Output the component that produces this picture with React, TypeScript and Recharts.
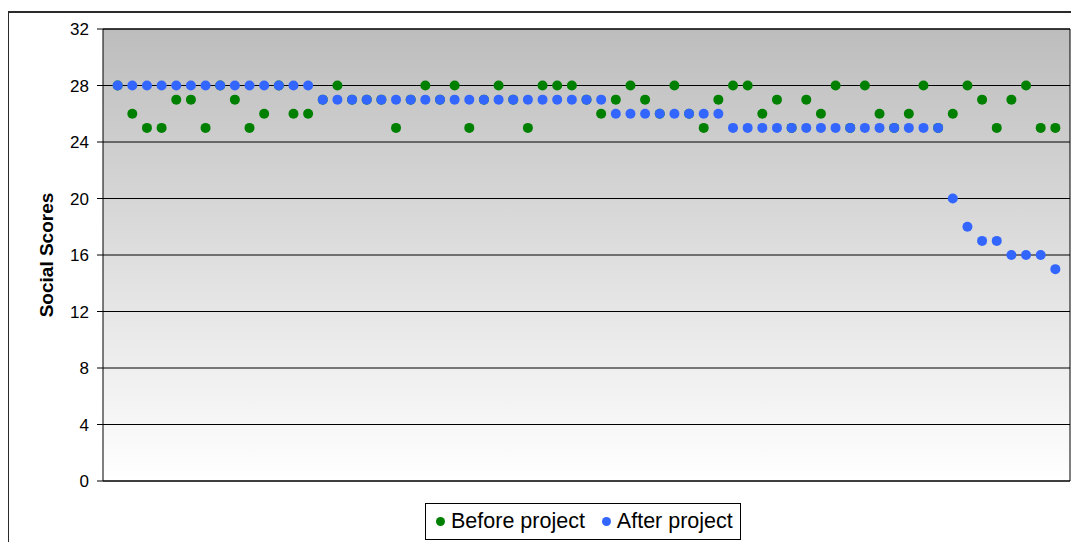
import React from 'react';
import { ScatterChart, Scatter, XAxis, YAxis, CartesianGrid, ReferenceLine } from 'recharts';

// participant index along the x axis (hidden in the original)
const participants = [
    1, 2, 3, 4, 5, 6, 7, 8, 9, 10, 11, 12, 13, 14, 15, 16, 17, 18, 19, 20,
    21, 22, 23, 24, 25, 26, 27, 28, 29, 30, 31, 32, 33, 34, 35, 36, 37, 38, 39, 40,
    41, 42, 43, 44, 45, 46, 47, 48, 49, 50, 51, 52, 53, 54, 55, 56, 57, 58, 59, 60,
    61, 62, 63, 64, 65,
];

const beforeScores = [
    28, 26, 25, 25, 27, 27, 25, 28, 27, 25, 26, 28, 26, 26, 27, 28, 27, 27, 27, 25,
    27, 28, 27, 28, 25, 27, 28, 27, 25, 28, 28, 28, 27, 26, 27, 28, 27, 26, 28, 26,
    25, 27, 28, 28, 26, 27, 25, 27, 26, 28, 25, 28, 26, 25, 26, 28, 25, 26, 28, 27,
    25, 27, 28, 25, 25,
];

const afterScores = [
    28, 28, 28, 28, 28, 28, 28, 28, 28, 28, 28, 28, 28, 28, 27, 27, 27, 27, 27, 27,
    27, 27, 27, 27, 27, 27, 27, 27, 27, 27, 27, 27, 27, 27, 26, 26, 26, 26, 26, 26,
    26, 26, 25, 25, 25, 25, 25, 25, 25, 25, 25, 25, 25, 25, 25, 25, 25, 20, 18, 17,
    17, 16, 16, 16, 15,
];

const yTicks = [0, 4, 8, 12, 16, 20, 24, 28, 32];

const seriesNames = ['Before project', 'After project'];
const seriesColors = ['#008000', '#3366FF'];

const FONT = '"Liberation Sans", Arial, sans-serif';

const beforeData = participants.map((p, i) => ({ x: p, y: beforeScores[i] }));
const afterData = participants.map((p, i) => ({ x: p, y: afterScores[i] }));

const dot = (color: string) => (props: any) => (
    <circle cx={props.cx} cy={props.cy} r={5} fill={color} />
);

const App: React.FC = () => {
    return (
        <div style={{ position: 'absolute', left: 0, top: 0, width: 1071, height: 542, overflow: 'hidden', background: '#fff', fontFamily: FONT }}>
            <div style={{ position: 'absolute', left: 8, top: 11, width: 1200, height: 700, border: '1px solid #2a2a2a', borderTopWidth: 2 }} />
            <div style={{ position: 'absolute', left: 0, top: 0 }}>
                <ScatterChart width={1071} height={542} margin={{ top: 29, right: 1, left: 43, bottom: 60 }}>
                    <defs>
                        <linearGradient id="plotBg" x1="0" y1="0" x2="0" y2="1">
                            <stop offset="0%" stopColor="#bdbdbd" />
                            <stop offset="100%" stopColor="#ffffff" />
                        </linearGradient>
                    </defs>
                    <CartesianGrid vertical={false} stroke="#000" fill="url(#plotBg)" fillOpacity={1} />
                    <XAxis
                        type="number"
                        dataKey="x"
                        domain={[0, 66]}
                        allowDataOverflow
                        tick={false}
                        tickLine={false}
                        axisLine={{ stroke: '#000' }}
                        height={1}
                    />
                    <YAxis
                        type="number"
                        dataKey="y"
                        domain={[0, 32]}
                        ticks={yTicks}
                        interval={0}
                        width={60}
                        tickSize={6}
                        tickMargin={8}
                        axisLine={{ stroke: '#000' }}
                        tickLine={{ stroke: '#000' }}
                        tick={{ fill: '#000', fontSize: 17, fontFamily: FONT }}
                        label={{
                            value: 'Social Scores',
                            angle: -90,
                            position: 'insideLeft',
                            offset: 3,
                            style: { textAnchor: 'middle', fontWeight: 'bold', fontSize: 19, fill: '#000', fontFamily: FONT },
                        }}
                    />
                    <ReferenceLine y={32} stroke="#000" />
                    <ReferenceLine x={66} stroke="#000" />
                    <Scatter name={seriesNames[0]} data={beforeData} shape={dot(seriesColors[0])} isAnimationActive={false} />
                    <Scatter name={seriesNames[1]} data={afterData} shape={dot(seriesColors[1])} isAnimationActive={false} />
                </ScatterChart>
            </div>
            <div
                style={{
                    position: 'absolute',
                    left: 425,
                    top: 503,
                    width: 316,
                    height: 37,
                    border: '1px solid #000',
                    background: '#fff',
                    display: 'flex',
                    alignItems: 'center',
                    fontSize: 21.5,
                    color: '#000',
                    boxSizing: 'border-box',
                    paddingLeft: 10,
                    whiteSpace: 'nowrap',
                }}
            >
                {seriesNames.map((name, i) => (
                    <span key={name} style={{ display: 'inline-flex', alignItems: 'center', marginRight: i === 0 ? 17 : 0 }}>
                        <span style={{ display: 'inline-block', width: 9, height: 9, borderRadius: '50%', background: seriesColors[i], marginRight: 6 }} />
                        {name}
                    </span>
                ))}
            </div>
        </div>
    );
};

export default App;
